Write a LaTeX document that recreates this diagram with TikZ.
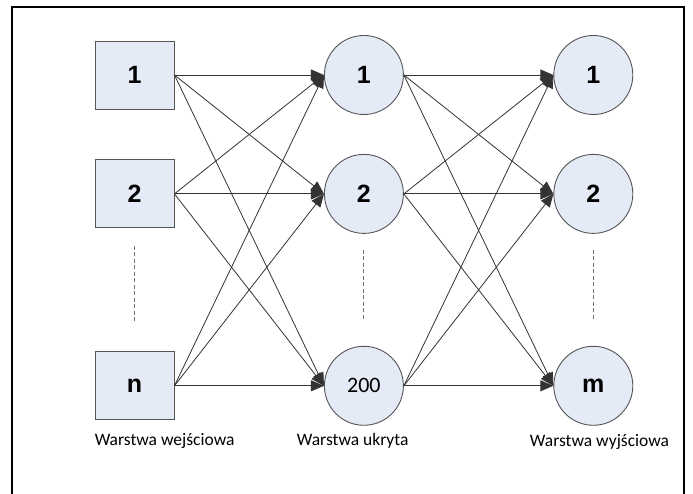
\documentclass[tikz,border=0pt]{standalone}
\usepackage{fontspec}
\setmainfont{Liberation Sans}
\newfontfamily\lblfont{Carlito}
\usetikzlibrary{arrows.meta,positioning,calc}
\definecolor{nodefill}{RGB}{228,234,246}
\definecolor{nodeline}{RGB}{85,85,85}
\tikzset{
  inp/.style={draw=nodeline, fill=nodefill, line width=0.9pt, minimum width=79pt, minimum height=68pt, inner sep=0pt, font=\fontsize{25}{29}\selectfont\bfseries},
  neuron/.style={circle, draw=nodeline, fill=nodefill, line width=0.9pt, minimum size=79pt, inner sep=0pt, font=\fontsize{25}{29}\selectfont\bfseries},
  arr/.style={-{Triangle[length=13pt, width=11pt]}, draw=black!80, line width=0.8pt},
  dots/.style={draw=black!55, line width=1pt, dash pattern=on 4pt off 2.5pt},
  lbl/.style={font=\lblfont\fontsize{17.5}{20}\selectfont, inner sep=0pt},
  frame/.style={line width=2pt}}

\begin{document}
\begin{tikzpicture}[x=1pt, y=1pt]
  \useasboundingbox (0,0) rectangle (693,494);
  \draw[frame] (12,0) -- (12,487) -- (684,487) -- (684,0);
  % input layer
  \node[inp] (in1) at (134.5,419) {1};
  \node[inp, below=50pt of in1] (in2) {2};
  \node[inp, below=123pt of in2] (inn) {n};
  % hidden layer
  \node[neuron, right=149.5pt of in1] (h1) {1};
  \node[neuron, right=149.5pt of in2] (h2) {2};
  \node[neuron, right=149.5pt of inn, font=\lblfont\fontsize{22}{26}\selectfont] (h200) {200};
  % output layer
  \node[neuron, right=149.5pt of h1] (o1) {1};
  \node[neuron, right=149.5pt of h2] (o2) {2};
  \node[neuron, right=149.5pt of h200] (om) {m};
  \draw[dots] ($(in2.south)!0.14!(inn.north)$) -- ($(in2.south)!0.77!(inn.north)$);
  \draw[dots] ($(h2.south)!0.14!(h200.north)$) -- ($(h2.south)!0.77!(h200.north)$);
  \draw[dots] ($(o2.south)!0.14!(om.north)$) -- ($(o2.south)!0.77!(om.north)$);
  \draw[arr] (in1.east) -- (h1.west); \draw[arr] (in1.east) -- (h2.west); \draw[arr] (in1.east) -- (h200.west);
  \draw[arr] (in2.east) -- (h1.west); \draw[arr] (in2.east) -- (h2.west); \draw[arr] (in2.east) -- (h200.west);
  \draw[arr] (inn.east) -- (h1.west); \draw[arr] (inn.east) -- (h2.west); \draw[arr] (inn.east) -- (h200.west);
  \draw[arr] (h1.east) -- (o1.west); \draw[arr] (h1.east) -- (o2.west); \draw[arr] (h1.east) -- (om.west);
  \draw[arr] (h2.east) -- (o1.west); \draw[arr] (h2.east) -- (o2.west); \draw[arr] (h2.east) -- (om.west);
  \draw[arr] (h200.east) -- (o1.west); \draw[arr] (h200.east) -- (o2.west); \draw[arr] (h200.east) -- (om.west);
  \node[lbl, below=13pt of inn.south west, anchor=north west] (lin) {Warstwa wejściowa};
  \node[lbl, right=62pt of lin.base east, anchor=base west] (lhid) {Warstwa ukryta};
  \node[lbl, right=121pt of lhid.base east, anchor=base west, yshift=-1pt] (lout) {Warstwa wyjściowa};
\end{tikzpicture}
\end{document}
